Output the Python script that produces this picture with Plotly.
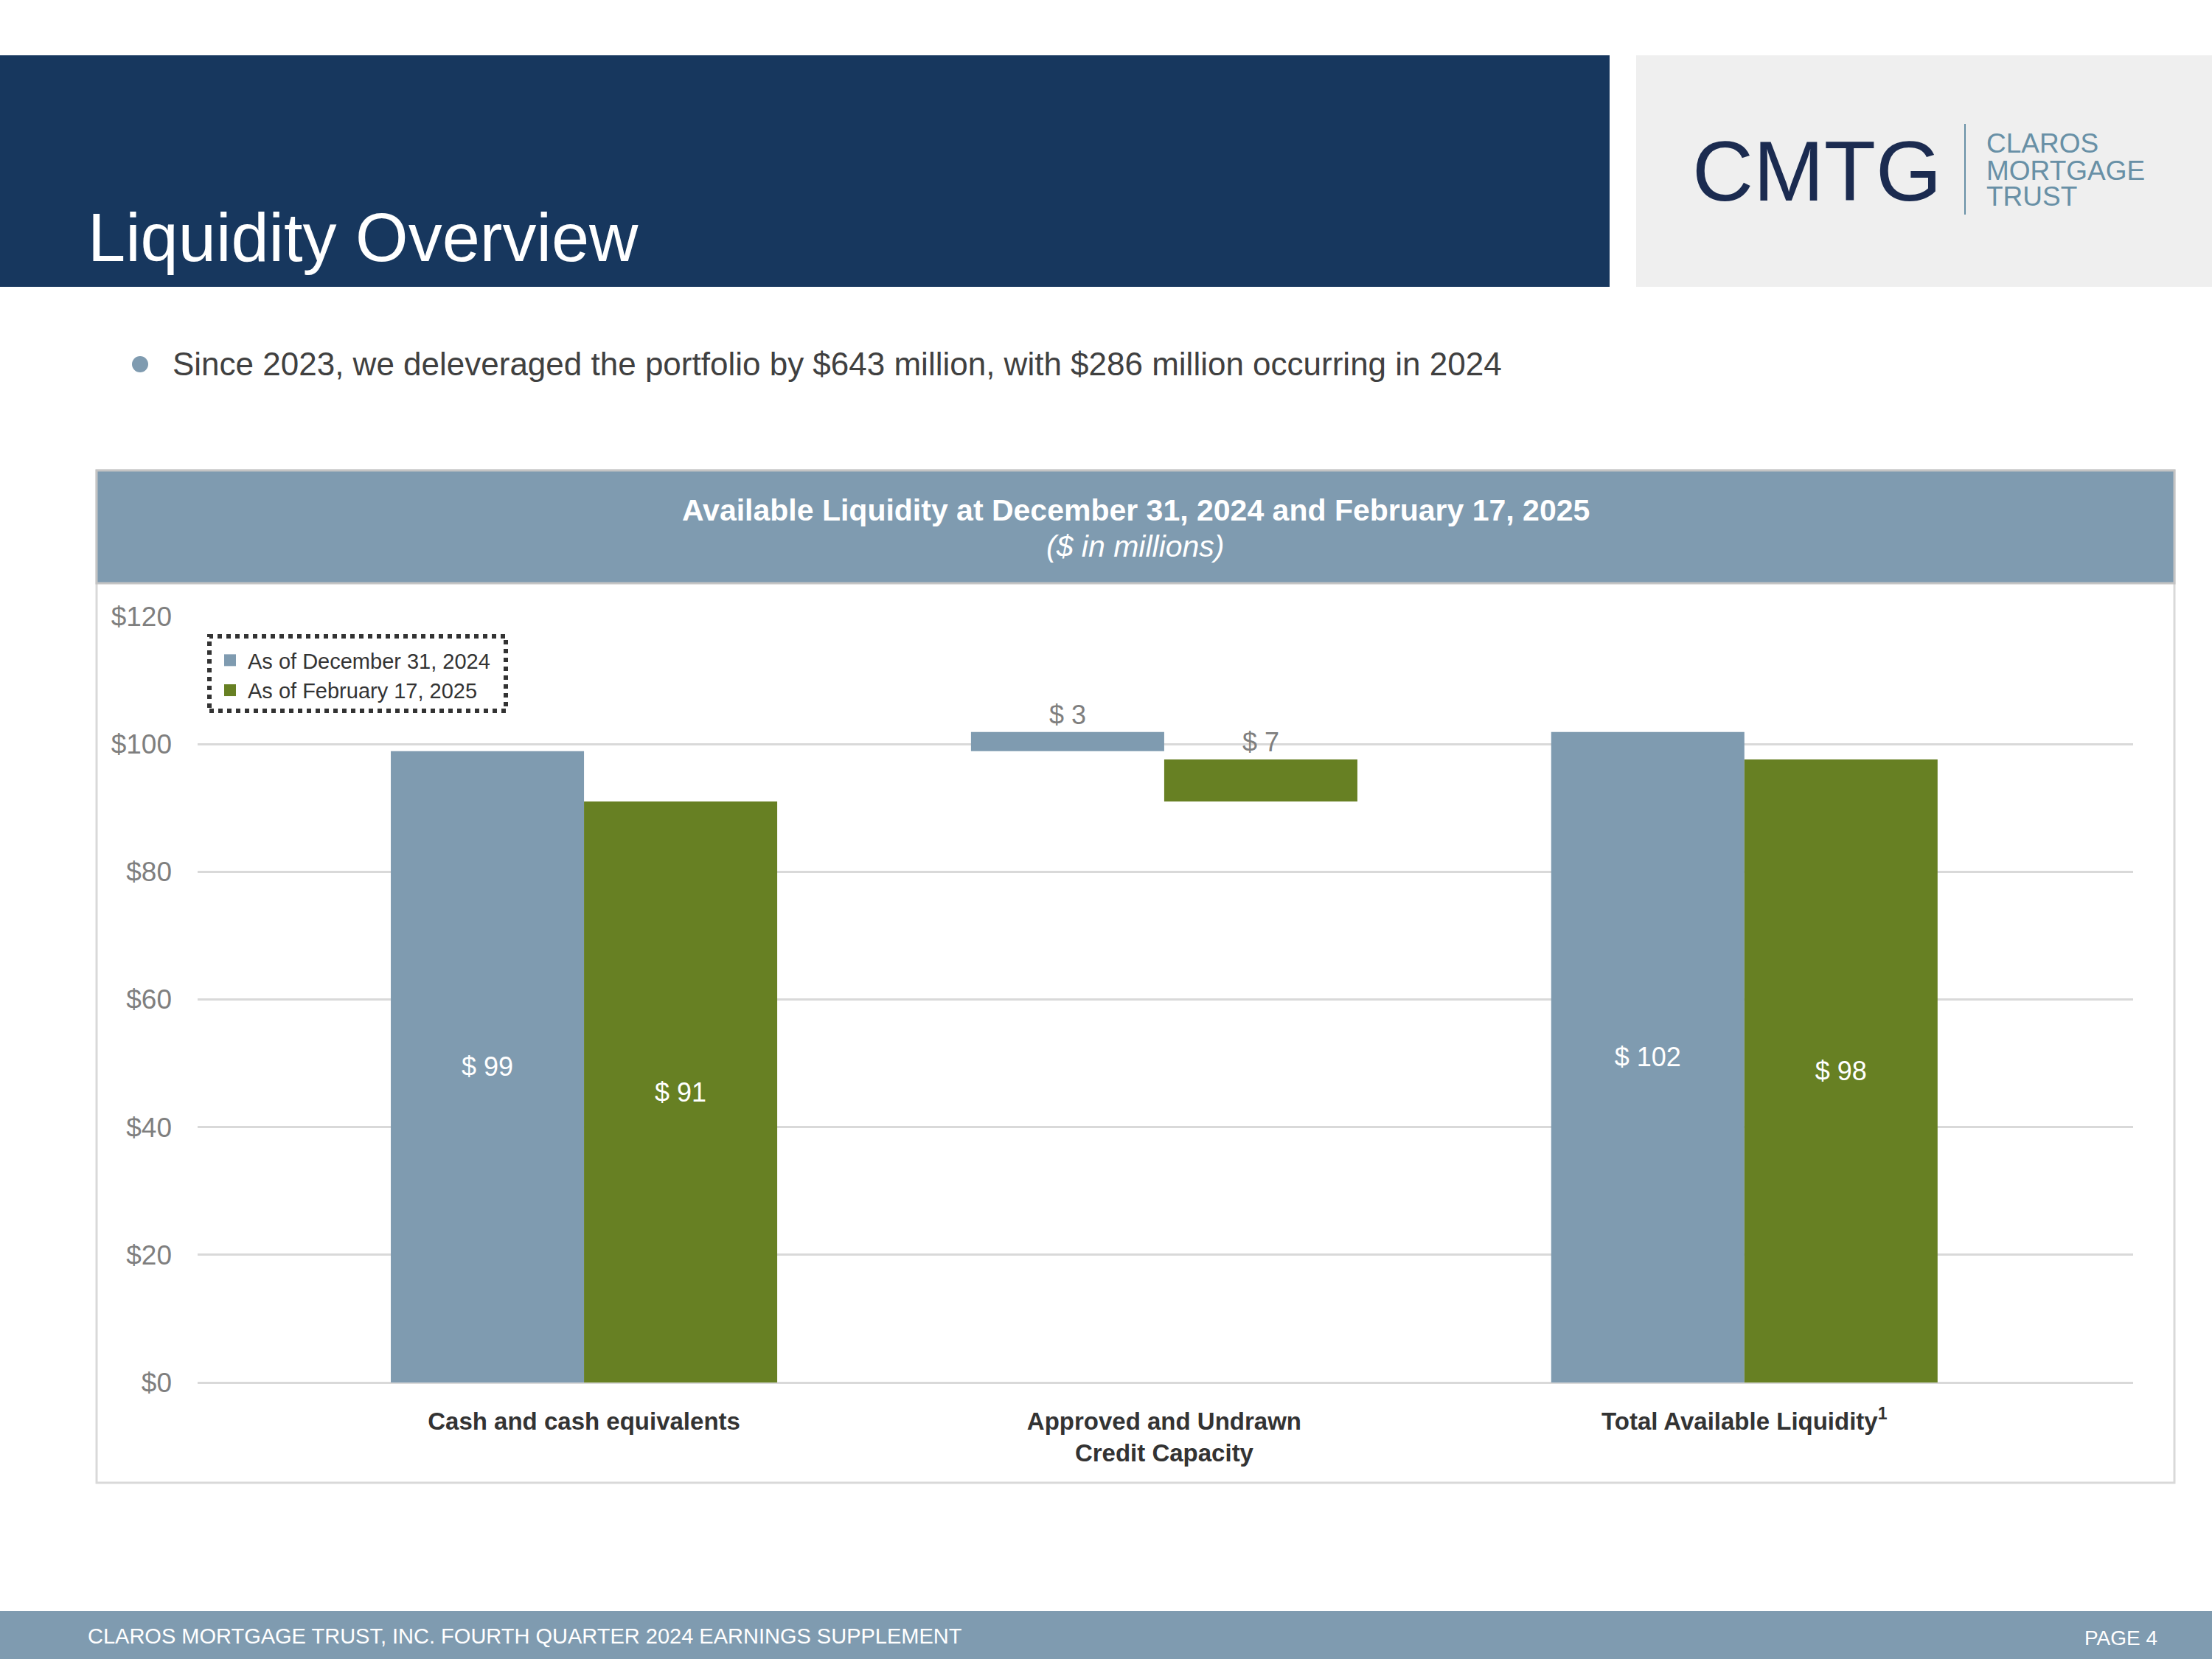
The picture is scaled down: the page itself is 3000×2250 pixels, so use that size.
import plotly.graph_objects as go

# ---------------- data ----------------
categories = ["Cash and cash equivalents", "Approved and Undrawn Credit Capacity", "Total Available Liquidity"]
tick_labels = ["<b>Cash and cash equivalents</b>",
               "<b>Approved and Undrawn</b><br><b>Credit Capacity</b>",
               "<b>Total Available Liquidity<sup>1</sup></b>"]
series_names = ["As of December 31, 2024", "As of February 17, 2025"]
dec_values = [98.9, 3.0, 101.9]
dec_base = [0, 98.9, 0]
feb_values = [91.0, 6.6, 97.6]
feb_base = [0, 91.0, 0]
y_ticks = [0, 20, 40, 60, 80, 100, 120]
y_tick_text = ["$" + str(v) for v in y_ticks]
logo_lines = ["CLAROS", "MORTGAGE", "TRUST"]

# ---------------- geometry helpers ----------------
W, H = 3000, 2250
ML, MR, MT, MB = 268, 107, 836, 375
PW, PH = W - ML - MR, H - MT - MB


def X(px):
    return (px - ML) / PW


def Y(py):
    return (H - MB - py) / PH


FONT = "Liberation Sans, Arial, sans-serif"
NAVY = "#17375E"
STEEL = "#7F9BB0"
GREEN = "#678023"
colors = [STEEL, GREEN]

fig = go.Figure()
for name, vals, base, col in [(series_names[0], dec_values, dec_base, STEEL),
                              (series_names[1], feb_values, feb_base, GREEN)]:
    fig.add_trace(go.Bar(
        name=name, x=categories, y=vals, base=base, showlegend=False, legendgroup=name,
        marker=dict(color=col, line=dict(width=0)),
        texttemplate="$ %{y:.0f}", textposition=["inside", "outside", "inside"],
        insidetextanchor="middle", constraintext="none", textangle=0,
        insidetextfont=dict(color="white", size=36, family=FONT),
        outsidetextfont=dict(color="#7F7F7F", size=36, family=FONT),
        cliponaxis=False,
    ))
# legend entries (square swatches)
for name, col in zip(series_names, colors):
    fig.add_trace(go.Scatter(
        name=name, x=[None], y=[None], mode="markers", legendgroup=name,
        marker=dict(symbol="square", size=16, color=col), showlegend=True,
    ))

shapes = [
    dict(type="rect", xref="paper", yref="paper", x0=X(0), x1=X(2183), y0=Y(389), y1=Y(75),
         fillcolor=NAVY, line=dict(width=0), layer="below"),
    dict(type="rect", xref="paper", yref="paper", x0=X(2219), x1=X(3000), y0=Y(389), y1=Y(75),
         fillcolor="#EFEFEF", line=dict(width=0), layer="below"),
    dict(type="line", xref="paper", yref="paper", x0=X(2665), x1=X(2665), y0=Y(291), y1=Y(168),
         line=dict(color="#6890A6", width=2)),
    dict(type="circle", xref="paper", yref="paper", x0=X(179), x1=X(201), y0=Y(505), y1=Y(483),
         fillcolor=STEEL, line=dict(width=0)),
    dict(type="rect", xref="paper", yref="paper", x0=X(131), x1=X(2949), y0=Y(2011), y1=Y(638),
         fillcolor="rgba(0,0,0,0)", line=dict(color="#D9D9D9", width=3), layer="below"),
    dict(type="rect", xref="paper", yref="paper", x0=X(131), x1=X(2949), y0=Y(791), y1=Y(638),
         fillcolor=STEEL, line=dict(color="#C4C4C4", width=3), layer="below"),
    dict(type="rect", xref="paper", yref="paper", x0=X(284), x1=X(686), y0=Y(964), y1=Y(863),
         fillcolor="rgba(0,0,0,0)", line=dict(color="#333333", width=6, dash="dot")),
    dict(type="rect", xref="paper", yref="paper", x0=X(0), x1=X(3000), y0=Y(2250), y1=Y(2185),
         fillcolor=STEEL, line=dict(width=0), layer="below"),
]

annotations = [
    dict(text="Liquidity Overview", x=X(117), y=Y(322), xanchor="left", yanchor="middle",
         font=dict(size=92, color="white", family=FONT)),
    dict(text="CMTG", x=X(2293), y=Y(232), xanchor="left", yanchor="middle",
         font=dict(size=115, color="#1B2B50", family=FONT)),
    dict(text="Since 2023, we deleveraged the portfolio by $643 million, with $286 million occurring in 2024",
         x=X(232), y=Y(493), xanchor="left", yanchor="middle",
         font=dict(size=44, color="#404040", family=FONT)),
    dict(text="<b>Available Liquidity at December 31, 2024 and February 17, 2025</b>",
         x=X(1540), y=Y(692), xanchor="center", yanchor="middle",
         font=dict(size=41, color="white", family=FONT)),
    dict(text="<i>($ in millions)</i>", x=X(1540), y=Y(741), xanchor="center", yanchor="middle",
         font=dict(size=41, color="white", family=FONT)),
    dict(text="CLAROS MORTGAGE TRUST, INC. FOURTH QUARTER 2024 EARNINGS SUPPLEMENT",
         x=X(117), y=Y(2219), xanchor="left", yanchor="middle",
         font=dict(size=29, color="white", family=FONT)),
    dict(text="PAGE 4", x=X(2928), y=Y(2221), xanchor="right", yanchor="middle",
         font=dict(size=28, color="white", family=FONT)),
]
for line_text, cy in zip(logo_lines, [195, 231, 267]):
    annotations.append(dict(text=line_text, x=X(2692), y=Y(cy), xanchor="left", yanchor="middle",
                            font=dict(size=37, color="#6890A6", family=FONT)))
for a in annotations:
    a.update(xref="paper", yref="paper", showarrow=False)

fig.update_layout(
    width=W, height=H,
    margin=dict(l=ML, r=MR, t=MT, b=MB, pad=0),
    paper_bgcolor="white", plot_bgcolor="white",
    font=dict(family=FONT),
    barmode="group", bargap=0.334, bargroupgap=0,
    showlegend=True,
    legend=dict(x=X(288), y=Y(870), xanchor="left", yanchor="top",
                bgcolor="rgba(0,0,0,0)", borderwidth=0,
                font=dict(size=29, color="#333333", family=FONT),
                tracegroupgap=0, itemwidth=38),
    xaxis=dict(type="category", range=[-0.666, 2.67], showgrid=False, zeroline=False,
               showline=False, ticks="", tickvals=categories, ticktext=tick_labels,
               tickfont=dict(size=33, color="#333333", family=FONT), ticklabelstandoff=30),
    yaxis=dict(range=[0, 120], tickvals=y_ticks, ticktext=y_tick_text, showgrid=True,
               gridcolor="#D9D9D9", gridwidth=3, zeroline=True, zerolinecolor="#D9D9D9",
               zerolinewidth=3, showline=False, ticks="",
               tickfont=dict(size=37, color="#7F7F7F", family=FONT), ticklabelstandoff=34),
    shapes=shapes, annotations=annotations,
)

fig.write_html("out.html")
